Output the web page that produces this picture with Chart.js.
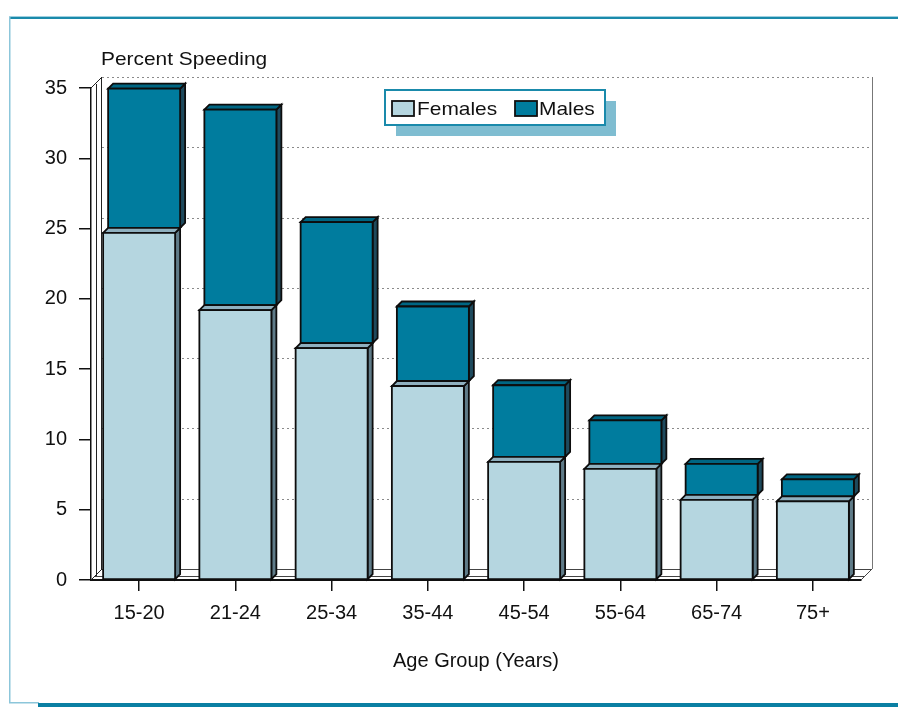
<!DOCTYPE html>
<html>
<head>
<meta charset="utf-8">
<script src="https://cdn.jsdelivr.net/npm/chart.js@4/dist/chart.umd.min.js"></script>
<style>
  html, body { margin: 0; padding: 0; background: #fff; }
  #wrap { position: relative; width: 898px; height: 707px; }
  canvas { display: block; }
</style>
</head>
<body>
<div id="wrap"><canvas id="c" width="898" height="707"></canvas></div>
<script>
// Age groups along the x axis
const ageGroups = ['15-20', '21-24', '25-34', '35-44', '45-54', '55-64', '65-74', '75+'];
// Percent speeding, stacked: females first, males on top
const females = [24.7, 19.2, 16.5, 13.8, 8.4, 7.9, 5.7, 5.6];
const males   = [9.9, 13.9, 8.6, 5.3, 5.1, 3.1, 2.2, 1.2];
const seriesNames = ['Females', 'Males'];
const yTickStep = 5;
const yMax = 35;

const FONT = "'Liberation Sans', Arial, Helvetica, sans-serif";
const TEXT = '#111';
const DEPTH = 5;       // bar depth
const WALL = 11;       // depth of the back wall
const palette = {
  Females: { face: '#b5d6e0', top: '#8fb0bf', side: '#5f7b88' },
  Males:   { face: '#007c9e', top: '#006683', side: '#1e4a5d' }
};

function box(ctx, l, t, r, b, d, c) {
  ctx.lineWidth = 1.8;
  ctx.strokeStyle = '#0d0d0d';
  ctx.lineJoin = 'miter';
  // side face
  ctx.beginPath();
  ctx.moveTo(r, t); ctx.lineTo(r + d, t - d); ctx.lineTo(r + d, b - d); ctx.lineTo(r, b); ctx.closePath();
  ctx.fillStyle = c.side; ctx.fill(); ctx.stroke();
  // top face
  ctx.beginPath();
  ctx.moveTo(l, t); ctx.lineTo(l + d, t - d); ctx.lineTo(r + d, t - d); ctx.lineTo(r, t); ctx.closePath();
  ctx.fillStyle = c.top; ctx.fill(); ctx.stroke();
  // front face
  ctx.beginPath();
  ctx.rect(l, t, r - l, b - t);
  ctx.fillStyle = c.face; ctx.fill(); ctx.stroke();
}

// text slightly widened, like the rest of the lettering
function wideText(ctx, str, x, y, size, stretch) {
  ctx.save();
  ctx.translate(x, y);
  ctx.scale(stretch, 1);
  ctx.font = size + 'px ' + FONT;
  ctx.fillText(str, 0, 0);
  ctx.restore();
}

const framePlugin = {
  id: 'frame3d',
  beforeDatasetsDraw(chart) {
    const ctx = chart.ctx;
    const { left, right, top, bottom } = chart.chartArea;
    const y = chart.scales.y;
    ctx.save();
    // dotted grid on the back wall
    ctx.strokeStyle = '#8a8a8a';
    ctx.lineWidth = 1;
    ctx.setLineDash([2, 3]);
    for (let v = yTickStep; v <= yMax; v += yTickStep) {
      const py = Math.round(y.getPixelForValue(v) - WALL) + 0.5;
      ctx.beginPath();
      ctx.moveTo(left + WALL, py); ctx.lineTo(right + WALL, py);
      ctx.stroke();
    }
    ctx.setLineDash([]);
    // right edge of the back wall
    ctx.strokeStyle = '#777';
    ctx.beginPath();
    ctx.moveTo(right + WALL + 0.5, top - WALL); ctx.lineTo(right + WALL + 0.5, bottom - WALL);
    ctx.stroke();
    // left wall
    ctx.strokeStyle = '#222';
    ctx.lineWidth = 1;
    ctx.beginPath();
    ctx.moveTo(left + 5.5, bottom - 4); ctx.lineTo(left + 5.5, top - 4);
    ctx.moveTo(left + WALL - 0.5, bottom - WALL); ctx.lineTo(left + WALL - 0.5, top - WALL);
    ctx.moveTo(left, top); ctx.lineTo(left + WALL, top - WALL);
    ctx.moveTo(left, bottom); ctx.lineTo(left + WALL, bottom - WALL);
    ctx.stroke();
    // floor
    ctx.strokeStyle = '#444';
    ctx.beginPath();
    ctx.moveTo(left + WALL, bottom - WALL + 0.5); ctx.lineTo(right + WALL, bottom - WALL + 0.5);
    ctx.moveTo(left + 4, bottom - 3.5); ctx.lineTo(right + 4, bottom - 3.5);
    ctx.moveTo(right, bottom); ctx.lineTo(right + WALL, bottom - WALL);
    ctx.stroke();
    ctx.restore();
  },
  afterDatasetsDraw(chart) {
    const ctx = chart.ctx;
    ctx.save();
    // males sit one depth step behind the females
    const mMeta = chart.getDatasetMeta(1);
    mMeta.data.forEach(el => {
      const h = el.width / 2;
      box(ctx, el.x - h + DEPTH, el.y - DEPTH, el.x + h + DEPTH, el.base - DEPTH, DEPTH, palette.Males);
    });
    const fMeta = chart.getDatasetMeta(0);
    fMeta.data.forEach(el => {
      const h = el.width / 2;
      box(ctx, el.x - h, el.y, el.x + h, el.base, DEPTH, palette.Females);
    });
    ctx.restore();
  },
  afterDraw(chart) {
    const ctx = chart.ctx;
    ctx.save();
    // page frame
    ctx.fillStyle = '#9fd0e0';
    ctx.fillRect(9, 16, 889, 1);
    ctx.fillStyle = '#1a8aab';
    ctx.fillRect(9, 17, 889, 2);
    ctx.fillStyle = '#8cc6da';
    ctx.fillRect(9, 17, 1.5, 686);
    ctx.fillRect(9, 702, 30, 1.5);
    ctx.fillStyle = '#0a7fa3';
    ctx.fillRect(38, 703, 860, 4);

    // y axis caption
    ctx.fillStyle = TEXT;
    ctx.textBaseline = 'alphabetic';
    ctx.textAlign = 'left';
    wideText(ctx, 'Percent Speeding', 101, 65, 19, 1.1);

    // legend with drop shadow
    const lx = 385, ly = 90, lw = 220, lh = 35;
    ctx.fillStyle = '#7fbdd1';
    ctx.fillRect(lx + 11, ly + 11, lw, lh);
    ctx.fillStyle = '#fff';
    ctx.fillRect(lx, ly, lw, lh);
    ctx.strokeStyle = '#1a8aab';
    ctx.lineWidth = 2;
    ctx.strokeRect(lx, ly, lw, lh);
    const items = [{ x: 392, tx: 417 }, { x: 515, tx: 539 }];
    chart.data.datasets.forEach((ds, i) => {
      const it = items[i];
      ctx.fillStyle = palette[ds.label].face;
      ctx.fillRect(it.x, 101, 22, 15);
      ctx.strokeStyle = '#111';
      ctx.lineWidth = 1.8;
      ctx.strokeRect(it.x, 101, 22, 15);
      ctx.fillStyle = TEXT;
      ctx.textBaseline = 'middle';
      wideText(ctx, ds.label, it.tx, 110, 19, 1.1);
    });
    ctx.restore();
  }
};

new Chart(document.getElementById('c'), {
  type: 'bar',
  data: {
    labels: ageGroups,
    datasets: [
      { label: seriesNames[0], data: females, backgroundColor: 'rgba(0,0,0,0)', borderWidth: 0 },
      { label: seriesNames[1], data: males, backgroundColor: 'rgba(0,0,0,0)', borderWidth: 0 }
    ]
  },
  options: {
    responsive: false,
    animation: false,
    events: [],
    layout: { padding: { top: 88, right: 37, left: 0, bottom: 0 } },
    datasets: { bar: { categoryPercentage: 1, barPercentage: 0.748 } },
    plugins: { legend: { display: false }, tooltip: { enabled: false }, title: { display: false } },
    scales: {
      x: {
        stacked: true,
        offset: true,
        grid: { offset: false, drawOnChartArea: false, tickLength: 11, color: '#111', lineWidth: 1.5 },
        border: { color: '#111', width: 2 },
        ticks: { color: TEXT, font: { family: FONT, size: 20 }, padding: 10, maxRotation: 0 },
        title: { display: true, text: 'Age Group (Years)', color: TEXT, font: { family: FONT, size: 20 }, padding: { top: 0, bottom: 34 } },
        afterFit: s => { s.height = 127; }
      },
      y: {
        stacked: true,
        min: 0,
        max: yMax,
        grid: { drawOnChartArea: false, tickLength: 12, color: '#111', lineWidth: 1.5 },
        border: { color: '#111', width: 1.5 },
        ticks: { stepSize: yTickStep, color: TEXT, font: { family: FONT, size: 20 }, padding: 12 },
        afterFit: s => { s.width = 91; }
      }
    }
  },
  plugins: [framePlugin]
});
</script>
</body>
</html>
